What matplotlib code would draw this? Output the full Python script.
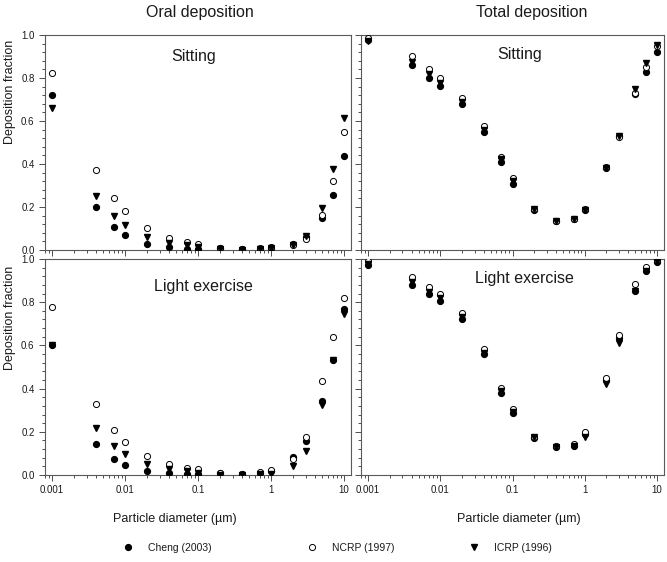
import matplotlib.pyplot as plt
from matplotlib.ticker import MultipleLocator, FormatStrFormatter, FuncFormatter, LogLocator

plt.rcParams['font.family'] = ['Liberation Sans', 'DejaVu Sans']

# particle diameters (um)
diam = [0.001, 0.004, 0.007, 0.01, 0.02, 0.04, 0.07, 0.1, 0.2, 0.4, 0.7, 1, 2, 3, 5, 7, 10]

# oral deposition, sitting
oral_sit_cheng = [0.72, 0.20, 0.106, 0.069, 0.030, 0.0125, 0.006, 0.005, 0.009, 0.003, 0.005, 0.008, 0.030, 0.062, 0.147, 0.256, 0.436]
oral_sit_ncrp = [0.825, 0.373, 0.242, 0.181, 0.102, 0.058, 0.0375, 0.030, 0.010, 0.005, 0.008, 0.012, 0.022, 0.052, 0.164, 0.320, 0.547]
oral_sit_icrp = [0.66, 0.253, 0.160, 0.117, 0.0625, 0.034, 0.023, 0.016, 0.005, 0.002, 0.004, 0.007, 0.025, 0.067, 0.197, 0.375, 0.6125]

# total deposition, sitting
tot_sit_cheng = [0.975, 0.861, 0.800, 0.762, 0.677, 0.550, 0.410, 0.309, 0.1875, 0.134, 0.142, 0.186, 0.381, 0.528, 0.725, 0.830, 0.919]
tot_sit_ncrp = [0.985, 0.903, 0.842, 0.800, 0.708, 0.577, 0.433, 0.333, 0.190, 0.136, 0.145, 0.189, 0.386, 0.525, 0.731, 0.853, 0.950]
tot_sit_icrp = [0.97, 0.873, 0.819, 0.778, 0.689, 0.559, 0.423, 0.322, 0.189, 0.134, 0.144, 0.186, 0.381, 0.528, 0.750, 0.869, 0.955]

# oral deposition, light exercise
oral_ex_cheng = [0.604, 0.145, 0.074, 0.048, 0.0185, 0.008, 0.005, 0.003, 0.009, 0.003, 0.009, 0.018, 0.085, 0.159, 0.343, 0.533, 0.770]
oral_ex_ncrp = [0.780, 0.329, 0.210, 0.155, 0.0865, 0.049, 0.034, 0.026, 0.011, 0.006, 0.012, 0.025, 0.072, 0.178, 0.434, 0.641, 0.819]
oral_ex_icrp = [0.604, 0.219, 0.134, 0.097, 0.0525, 0.028, 0.0185, 0.009, 0.002, 0.002, 0.003, 0.005, 0.043, 0.113, 0.326, 0.533, 0.746]

# total deposition, light exercise
tot_ex_cheng = [0.974, 0.881, 0.836, 0.805, 0.720, 0.561, 0.380, 0.286, 0.172, 0.130, 0.133, 0.190, 0.440, 0.635, 0.852, 0.943, 0.986]
tot_ex_ncrp = [0.990, 0.917, 0.869, 0.839, 0.751, 0.584, 0.402, 0.306, 0.176, 0.133, 0.142, 0.198, 0.450, 0.649, 0.886, 0.963, 0.994]
tot_ex_icrp = [0.975, 0.893, 0.847, 0.819, 0.731, 0.566, 0.388, 0.292, 0.175, 0.130, 0.136, 0.178, 0.419, 0.610, 0.852, 0.943, 0.990]

labels = ['Cheng (2003)', 'NCRP (1997)', 'ICRP (1996)']
col_titles = ['Oral deposition', 'Total deposition']
row_titles = ['Sitting', 'Light exercise']

fig = plt.figure(figsize=(6.67, 5.62), dpi=100)
W, H = 667.0, 562.0

# axes rectangles in pixels: left, top, right, bottom
boxes = [
    (45, 35, 351, 250),
    (361, 35, 664, 250),
    (45, 259, 351, 475),
    (361, 259, 664, 475),
]
panel_data = [
    (oral_sit_cheng, oral_sit_ncrp, oral_sit_icrp),
    (tot_sit_cheng, tot_sit_ncrp, tot_sit_icrp),
    (oral_ex_cheng, oral_ex_ncrp, oral_ex_icrp),
    (tot_ex_cheng, tot_ex_ncrp, tot_ex_icrp),
]
panel_text = [
    (row_titles[0], 194, 57),
    (row_titles[0], 520, 54),
    (row_titles[1], 203, 286),
    (row_titles[1], 524, 279),
]

ink = '0.1'
axes = []
for i in range(4):
    l, t, r, b = boxes[i]
    ax = fig.add_axes([l / W, 1 - b / H, (r - l) / W, (b - t) / H])
    cheng, ncrp, icrp = panel_data[i]
    ax.plot(diam, cheng, 'o', color='black', ms=4.2, label=labels[0], zorder=3)
    ax.plot(diam, ncrp, 'o', mfc='white', mec='black', mew=0.7, ms=4.4, label=labels[1], zorder=3)
    ax.plot(diam, icrp, 'v', color='black', ms=4.2, label=labels[2], zorder=3)
    ax.set_xscale('log')
    ax.set_xlim(0.0008, 12.5)
    ax.set_ylim(0, 1.0)
    ax.xaxis.set_major_locator(LogLocator(base=10, numticks=10))
    ax.xaxis.set_minor_locator(LogLocator(base=10, subs=range(2, 10), numticks=10))
    ax.yaxis.set_major_locator(MultipleLocator(0.2))
    ax.yaxis.set_minor_locator(MultipleLocator(0.04))
    ax.yaxis.set_major_formatter(FormatStrFormatter('%.1f'))
    ax.xaxis.set_major_formatter(FuncFormatter(lambda v, p: '%g' % v))
    ax.tick_params(which='both', direction='out', top=False, right=False,
                   colors='0.3', labelcolor=ink, labelsize=7, width=0.7)
    ax.tick_params(which='major', length=4)
    ax.tick_params(which='minor', length=2.5)
    for s in ax.spines.values():
        s.set_color('0.35')
        s.set_linewidth(0.8)
    if i < 2:
        ax.tick_params(axis='x', labelbottom=False)
    if i % 2 == 1:
        ax.tick_params(axis='y', labelleft=False)
    name, tx, ty = panel_text[i]
    fig.text(tx / W, 1 - ty / H, name, ha='center', va='center', fontsize=11.5, color=ink)
    axes.append(ax)

# column titles
fig.text(200 / W, 1 - 13 / H, col_titles[0], ha='center', va='center', fontsize=11.5, color=ink)
fig.text(532 / W, 1 - 13 / H, col_titles[1], ha='center', va='center', fontsize=11.5, color=ink)

# axis labels
fig.text(10 / W, 1 - 92 / H, 'Deposition fraction', rotation=90, ha='center', va='center', fontsize=9, color=ink)
fig.text(10 / W, 1 - 318 / H, 'Deposition fraction', rotation=90, ha='center', va='center', fontsize=9, color=ink)
fig.text(175 / W, 1 - 519 / H, 'Particle diameter (\u00b5m)', ha='center', va='center', fontsize=9, color=ink)
fig.text(519 / W, 1 - 519 / H, 'Particle diameter (\u00b5m)', ha='center', va='center', fontsize=9, color=ink)

# legend: one small legend per entry so each sits where it does in the original
handles, labs = axes[0].get_legend_handles_labels()
leg_x = [128, 312, 474]
for h, lab, mx in zip(handles, labs, leg_x):
    lg = fig.legend([h], [lab], loc='center left', bbox_to_anchor=((mx - 5.2) / W, 1 - 548 / H),
                    frameon=False, fontsize=7.5, handletextpad=1.4, handlelength=1.0,
                    borderpad=0, borderaxespad=0, labelcolor=ink)

plt.savefig('out.png', dpi=100)
